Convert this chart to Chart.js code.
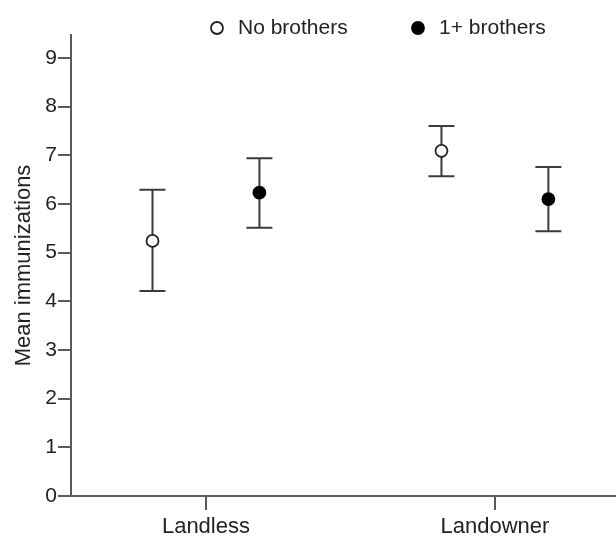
<!DOCTYPE html>
<html>
<head>
<meta charset="utf-8">
<script src="https://cdn.jsdelivr.net/npm/chart.js@4.4.0/dist/chart.umd.min.js"></script>
<style>
  body { margin: 0; background: #fff; }
  canvas { display: block; }
</style>
</head>
<body>
<canvas id="chart" width="616" height="538"></canvas>
<script>
// Datos
const grupos = ['Landless', 'Landowner'];
const series = ['No brothers', '1+ brothers'];
const sinHermanosMedia = [5.24, 7.09];
const sinHermanosBajo = [4.21, 6.57];
const sinHermanosAlto = [6.29, 7.60];
const conHermanosMedia = [6.23, 6.10];
const conHermanosBajo = [5.51, 5.44];
const conHermanosAlto = [6.94, 6.76];
const marcasY = [0, 1, 2, 3, 4, 5, 6, 7, 8, 9];

const ctx = document.getElementById('chart');
const desplazamiento = 0.185;
const colorEje = '#5a5a5a';

Chart.defaults.font.family = '"Liberation Sans", Arial, sans-serif';
Chart.defaults.font.size = 21;
Chart.defaults.color = '#222';

function puntos(medias, bajos, altos, dx) {
    return grupos.map((g, i) => ({ x: i + 1 + dx, y: medias[i], yMin: bajos[i], yMax: altos[i] }));
}

// Barras de error dibujadas antes de los puntos
const barrasError = {
    id: 'barrasError',
    beforeDatasetsDraw(chart) {
        const { ctx, scales: { x, y } } = chart;
        ctx.save();
        ctx.strokeStyle = '#3c3c3c';
        ctx.lineWidth = 2;
        chart.data.datasets.forEach(ds => {
            ds.data.forEach(p => {
                const px = x.getPixelForValue(p.x);
                const arriba = y.getPixelForValue(p.yMax);
                const abajo = y.getPixelForValue(p.yMin);
                ctx.beginPath();
                ctx.moveTo(px, arriba); ctx.lineTo(px, abajo);
                ctx.moveTo(px - 13, arriba); ctx.lineTo(px + 13, arriba);
                ctx.moveTo(px - 13, abajo); ctx.lineTo(px + 13, abajo);
                ctx.stroke();
            });
        });
        ctx.restore();
    }
};

// Leyenda arriba
const leyenda = {
    id: 'leyenda',
    afterDraw(chart) {
        const { ctx } = chart;
        const posX = [217, 418];
        const posY = 28;
        ctx.save();
        chart.data.datasets.forEach((ds, i) => {
            ctx.beginPath();
            ctx.arc(posX[i], posY, 6, 0, 2 * Math.PI);
            ctx.fillStyle = ds.pointBackgroundColor;
            ctx.fill();
            ctx.lineWidth = 1.8;
            ctx.strokeStyle = ds.pointBorderColor;
            ctx.stroke();
            ctx.fillStyle = '#222';
            ctx.font = '21px "Liberation Sans", Arial, sans-serif';
            ctx.textBaseline = 'middle';
            ctx.fillText(ds.label, posX[i] + 21, posY);
        });
        ctx.restore();
    }
};

new Chart(ctx, {
    type: 'scatter',
    data: {
        datasets: [{
            label: series[0],
            data: puntos(sinHermanosMedia, sinHermanosBajo, sinHermanosAlto, -desplazamiento),
            pointRadius: 6,
            pointBackgroundColor: '#fff',
            pointBorderColor: '#222',
            pointBorderWidth: 1.8
        }, {
            label: series[1],
            data: puntos(conHermanosMedia, conHermanosBajo, conHermanosAlto, desplazamiento),
            pointRadius: 6,
            pointBackgroundColor: '#000',
            pointBorderColor: '#000',
            pointBorderWidth: 1.8
        }]
    },
    options: {
        responsive: false,
        animation: false,
        layout: { autoPadding: false, padding: { top: 35, right: 0, left: 0, bottom: 0 } },
        plugins: {
            legend: { display: false },
            tooltip: { enabled: false }
        },
        scales: {
            x: {
                type: 'linear',
                min: 0.533,
                max: 2.419,
                afterBuildTicks: s => { s.ticks = grupos.map((g, i) => ({ value: i + 1 })); },
                afterFit: s => { s.height = 42; s.paddingLeft = 0; s.paddingRight = 0; },
                ticks: { callback: v => grupos[v - 1], padding: 4, font: { size: 22 }, maxRotation: 0 },
                grid: { drawOnChartArea: false, drawTicks: true, tickLength: 14, color: colorEje, lineWidth: 2 },
                border: { display: true, color: colorEje, width: 2 }
            },
            y: {
                min: 0,
                max: 9.47,
                afterBuildTicks: s => { s.ticks = marcasY.map(v => ({ value: v })); },
                afterFit: s => { s.width = 71; },
                ticks: { padding: 1 },
                title: { display: true, text: 'Mean immunizations', font: { size: 22 }, padding: { top: 11, bottom: 0 } },
                grid: { drawOnChartArea: false, drawTicks: true, tickLength: 13, color: colorEje, lineWidth: 2 },
                border: { display: true, color: colorEje, width: 2 }
            }
        }
    },
    plugins: [barrasError, leyenda]
});
</script>
</body>
</html>
